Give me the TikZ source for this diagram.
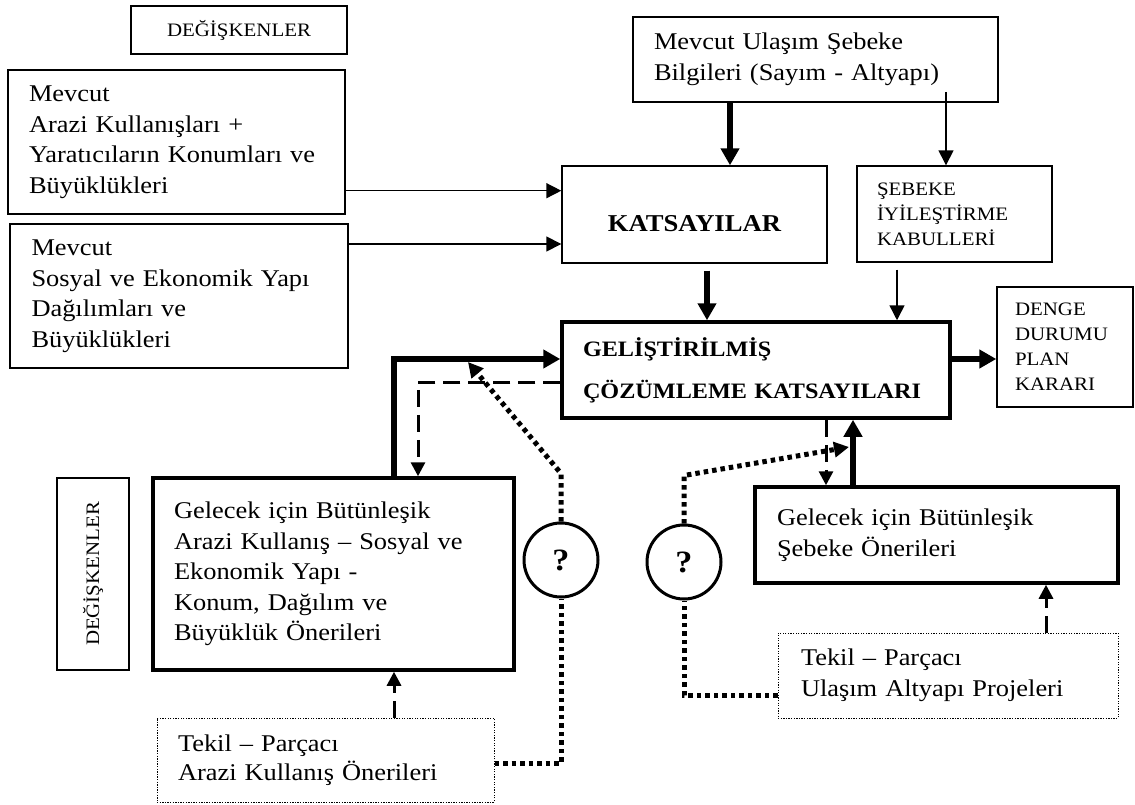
\documentclass[tikz,border=0pt]{standalone}
\usepackage{fontspec}
\setmainfont[FakeStretch=1.1]{Liberation Serif}
\usetikzlibrary{arrows.meta,calc}
\newcommand\bigtxt{\fontsize{24}{30.5}\selectfont}
\newcommand\smalltxt{\fontsize{19}{25}\selectfont}
\begin{document}
\begin{tikzpicture}[x=1pt,y=-1pt,
  box/.style={draw, rectangle, line width=1.4pt, inner ysep=0pt, align=left},
  heavybox/.style={box, line width=3.5pt},
  dotbox/.style={box, line width=1pt, dash pattern=on 1.3pt off 1.3pt},
  qcircle/.style={draw, circle, line width=3pt, minimum size=74pt, inner sep=0pt,
    font=\fontsize{31}{32}\selectfont\bfseries},
  thinarr/.style={line width=1.5pt, -{Triangle[length=15pt,width=15pt]}},
  thickarr/.style={line width=5.5pt, line join=miter, -{Triangle[length=17pt,width=18pt]}},
  dasharr/.style={line width=3pt, dash pattern=on 17pt off 8pt, -{Triangle[length=14pt,width=14pt]}},
  dotline/.style={line width=5pt, dash pattern=on 4.5pt off 4pt},
  dotarr/.style={dotline, -{Triangle[length=15pt,width=15pt]}}
]
\useasboundingbox (0,0) rectangle (1135,805);

% headings
\node[box, minimum width=216pt, minimum height=48pt, align=center, font=\smalltxt] (H1) at (239,30) {DEĞİŞKENLER};
\node[box, rotate=90, minimum width=192pt, minimum height=72pt, align=center, font=\smalltxt] (H2) at (93,574) {DEĞİŞKENLER};

% existing data
\node[box, minimum width=337pt, minimum height=144pt, inner xsep=21pt, text width=295pt, font=\bigtxt] (A) at (176.5,142)
  {Mevcut\\Arazi Kullanışları +\\Yaratıcıların Konumları ve\\Büyüklükleri};
\node[box, minimum width=338pt, minimum height=144pt, inner xsep=21.5pt, text width=295pt, font=\bigtxt] (B) at (179,296)
  {Mevcut\\Sosyal ve Ekonomik Yapı\\Dağılımları ve\\Büyüklükleri};
\node[box, minimum width=365pt, minimum height=85pt, inner xsep=21pt, text width=323pt, font=\bigtxt] (U) at (815.5,59.5)
  {Mevcut Ulaşım Şebeke\\Bilgileri (Sayım - Altyapı)};

% coefficients
\node[box, minimum width=265pt, minimum height=97pt, align=center, font=\fontsize{24.2}{30}\selectfont\bfseries] (K) at (694.5,214.5)
  {\raisebox{-9pt}[\height][\depth]{KATSAYILAR}};
\node[box, minimum width=195pt, minimum height=96pt, inner xsep=20pt, text width=155pt, font=\smalltxt] (S) at (954.5,214)
  {ŞEBEKE\\İYİLEŞTİRME\\KABULLERİ};
\node[heavybox, minimum width=388pt, minimum height=96pt, inner xsep=21pt, text width=346pt, font=\fontsize{22}{42}\selectfont\bfseries] (G) at (756,370)
  {GELİŞTİRİLMİŞ\\ÇÖZÜMLEME KATSAYILARI};
\node[box, minimum width=136pt, minimum height=120pt, inner xsep=18pt, text width=100pt, font=\smalltxt] (D) at (1065,347)
  {DENGE\\DURUMU\\PLAN\\KARARI};

% proposals
\node[heavybox, minimum width=361pt, minimum height=192pt, inner xsep=21pt, text width=319pt, font=\bigtxt] (L) at (333.5,574)
  {Gelecek için Bütünleşik\\Arazi Kullanış – Sosyal ve\\Ekonomik Yapı -\\Konum, Dağılım ve\\Büyüklük Önerileri};
\node[heavybox, minimum width=363pt, minimum height=96pt, inner xsep=22pt, text width=319pt, font=\bigtxt] (R) at (936.5,535)
  {Gelecek için Bütünleşik\\Şebeke Önerileri};
\node[dotbox, minimum width=337pt, minimum height=84pt, inner xsep=21pt, text width=295pt, font=\fontsize{24}{29}\selectfont] (TA) at (325.5,760)
  {Tekil – Parçacı\\Arazi Kullanış Önerileri};
\node[dotbox, minimum width=340pt, minimum height=85pt, inner xsep=23pt, text width=294pt, font=\bigtxt] (TU) at (948,675.5)
  {Tekil – Parçacı\\Ulaşım Altyapı Projeleri};

\node[qcircle] (C1) at (561,560) {?};
\node[qcircle] (C2) at (684,562) {?};

% connector levels
\coordinate (yA) at (0,190.7);
\coordinate (yB) at (0,244);
\coordinate (xUK) at (730,0);
\coordinate (pUS) at (946,92);
\coordinate (xKG) at (707,0);
\coordinate (xSG) at (897,0);
\coordinate (yGD) at (0,359);
\coordinate (xLG) at (394,0);
\coordinate (yGL) at (0,382);
\coordinate (xGL) at (418,0);
\coordinate (yTA) at (0,763);
\coordinate (tip1) at (468,362);
\coordinate (yTU) at (0,695);
\coordinate (tip2) at (849,447);
\coordinate (xGR) at (826,0);
\coordinate (xRG) at (853,0);
\coordinate (xTUR) at (1046,0);

% connectors
\draw[thinarr] (A.east |- yA) -- (K.west |- yA);
\draw[thinarr] (B.east |- yB) -- (K.west |- yB);
\draw[thickarr] (U.south -| xUK) -- (K.north -| xUK);
\draw[thinarr] (pUS) -- (S.north -| pUS);
\draw[thickarr, shorten <=7pt] (K.south -| xKG) -- (G.north -| xKG);
\draw[thinarr, shorten <=7pt] (S.south -| xSG) -- (G.north -| xSG);
\draw[thickarr] (G.east |- yGD) -- (D.west |- yGD);
\draw[thickarr] (L.north -| xLG) |- (G.west |- yGD);
\draw[dasharr] (G.west |- yGL) -| (L.north -| xGL);
\draw[dasharr] (TA.north -| xLG) -- (L.south -| xLG);
\draw[dotline] (TA.east |- yTA) -| (C1.south);
\draw[dotarr] (C1.north) -- ++(0,-48) -- (tip1);
\draw[dotline] (TU.west |- yTU) -| (C2.south);
\draw[dotarr] (C2.north) -- ++(0,-48) -- (tip2);
\draw[dasharr] (G.south -| xGR) -- (R.north -| xGR);
\draw[thickarr] (R.north -| xRG) -- (G.south -| xRG);
\draw[dasharr] (TU.north -| xTUR) -- (R.south -| xTUR);
\end{tikzpicture}
\end{document}
